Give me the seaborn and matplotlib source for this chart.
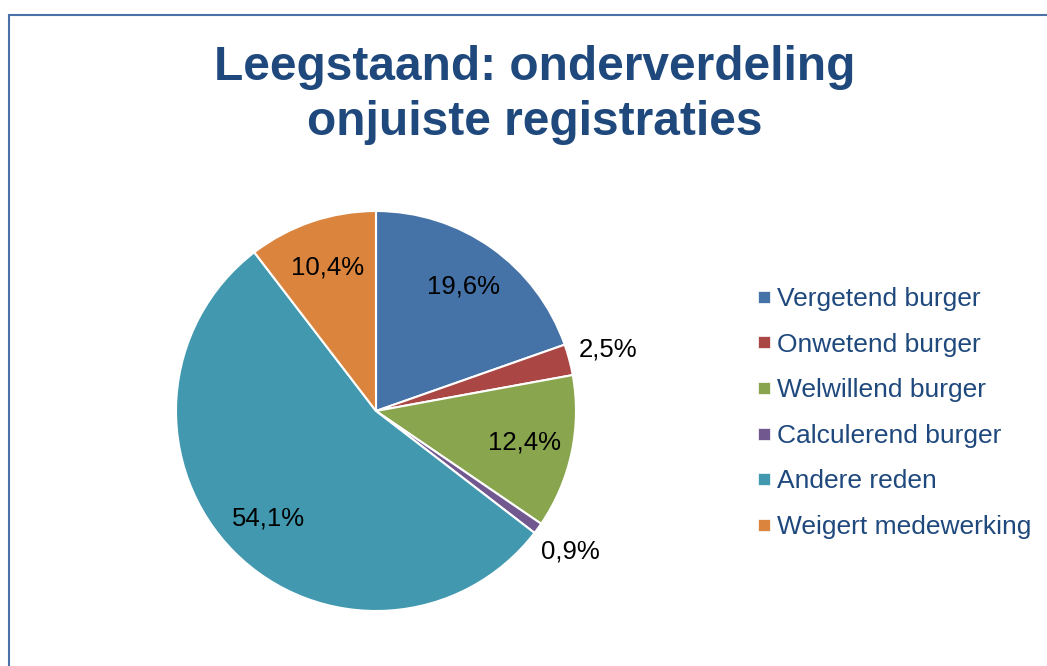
import numpy as np
import matplotlib
matplotlib.use("Agg")
import matplotlib.pyplot as plt
import seaborn as sns
from matplotlib.lines import Line2D
from matplotlib.patches import Rectangle

categories = ["Vergetend burger", "Onwetend burger", "Welwillend burger",
              "Calculerend burger", "Andere reden", "Weigert medewerking"]
values = [19.6, 2.5, 12.4, 0.9, 54.1, 10.4]
colors = ["#4572A7", "#AA4643", "#89A54E", "#71588F", "#4198AF", "#DB843D"]
title = "Leegstaand: onderverdeling\nonjuiste registraties"

sns.set_theme(style="white")
plt.rcParams["font.family"] = ["Liberation Sans", "DejaVu Sans"]

TITLE_COLOR = "#1F497D"
fig = plt.figure(figsize=(10.47, 6.66), dpi=100)

# frame
fig.patches.append(Rectangle((8.5 / 1047, -0.1), 1.2, (666 - 14.5) / 666 + 0.1,
                             transform=fig.transFigure, fill=False,
                             edgecolor="#4A72A8", linewidth=1.5))

ax = fig.add_axes([176 / 1047, 55 / 666, 400 / 1047, 400 / 666])
wedges, _ = ax.pie(values, colors=colors, startangle=90, counterclock=False,
                   wedgeprops=dict(edgecolor="white", linewidth=1.5),
                   radius=1.0)
ax.set_xlim(-1, 1)
ax.set_ylim(-1, 1)
ax.set_aspect("equal")

for w, v in zip(wedges, values):
    ang = np.deg2rad((w.theta1 + w.theta2) / 2)
    d = 0.76 if v >= 5 else 1.2
    ax.text(d * np.cos(ang), d * np.sin(ang), f"{v:.1f}%".replace(".", ","),
            ha="center", va="center", fontsize=18.5, color="black")

fig.text(0.511, 0.857, title, ha="center", va="center", fontsize=34.5,
         fontweight="bold", color=TITLE_COLOR, linespacing=1.28)

handles = [Line2D([], [], marker="s", linestyle="none", markersize=8,
                  markerfacecolor=c, markeredgecolor="white", markeredgewidth=0.5)
           for c in colors]
leg = fig.legend(handles, categories, loc="center left",
                 bbox_to_anchor=(756 / 1047, (666 - 413) / 666), frameon=False,
                 fontsize=19, handlelength=0.6, handletextpad=0.2,
                 labelspacing=0.82, borderaxespad=0, borderpad=0)
for t in leg.get_texts():
    t.set_color(TITLE_COLOR)

fig.savefig("out.png", dpi=100, facecolor="white")
